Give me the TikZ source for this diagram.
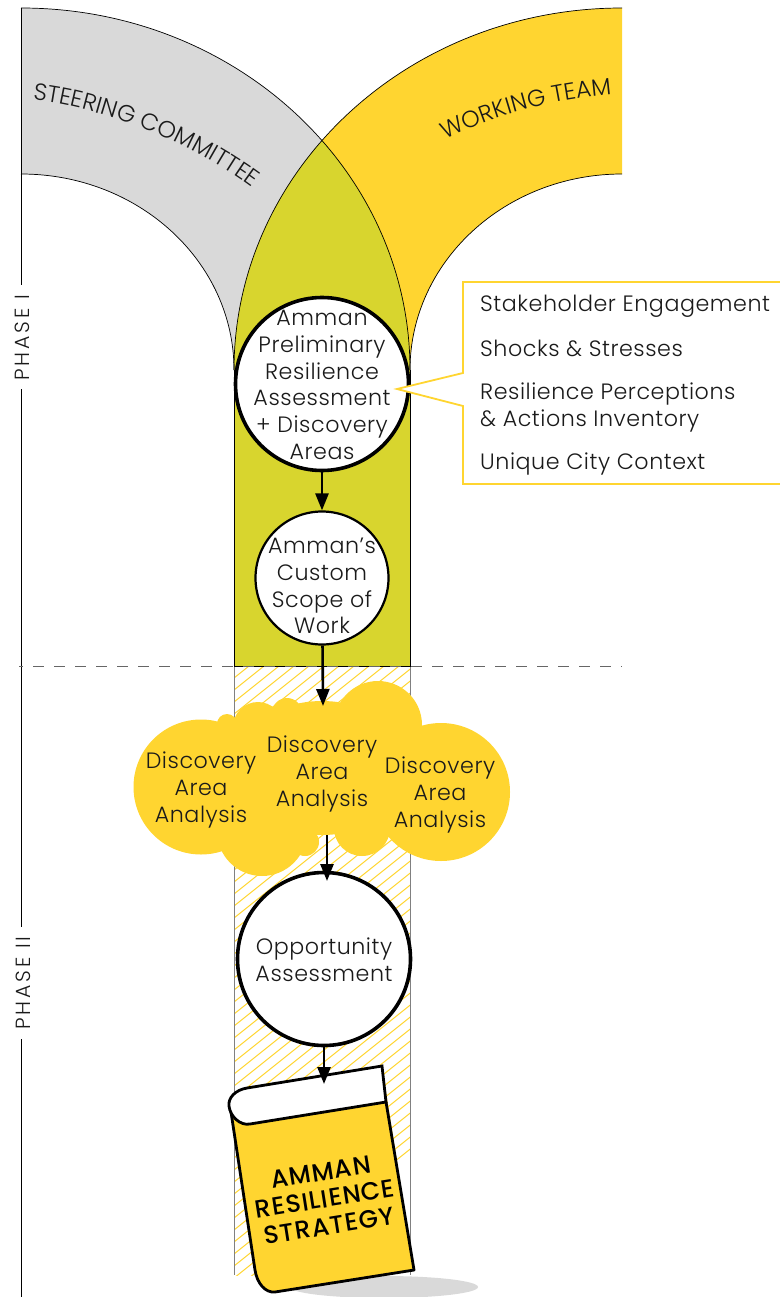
\documentclass[tikz,border=0pt]{standalone}
\usepackage{fontspec}
\setmainfont{Poppins}[LetterSpace=2]
\newfontfamily\lightf{Poppins Light}[LetterSpace=2.5]
\newfontfamily\widef{Poppins Light}
\newfontfamily\phasef{Poppins Light}[LetterSpace=14]
\newfontfamily\boldf{Poppins Medium}[LetterSpace=4]
\usetikzlibrary{arrows.meta,decorations.text}
\definecolor{ygold}{HTML}{FFD530}
\definecolor{yolive}{HTML}{D8D52E}
\definecolor{ygray}{HTML}{D9D9D9}
\definecolor{ink}{HTML}{1A1A1A}
\tikzset{
  x=1pt,y=-1pt,
  band/.style={draw=black,line width=0.7pt},
  bigcirc/.style={circle,draw=black,fill=white,line width=3.6pt,inner sep=0pt,minimum size=173pt},
  smallcirc/.style={circle,draw=black,fill=white,line width=2.2pt,inner sep=0pt,minimum size=133pt},
  bodytext/.style={align=center,inner sep=0pt,text=ink,font=\fontsize{22.2}{26.8}\selectfont\lightf},
  listtext/.style={anchor=west,inner sep=0pt,align=left,text=ink,font=\fontsize{22.2}{26.8}\selectfont\lightf},
  flow/.style={-{Triangle[length=17pt,width=13pt]},line width=2.6pt,black},
  rail/.style={line width=1pt,black},
  phase/.style={rotate=90,inner sep=0pt,text=ink,font=\fontsize{20.5}{24}\selectfont\phasef},
  booktext/.style={rotate=9,align=center,inner sep=0pt,text=black,font=\fontsize{25}{27.2}\selectfont\boldf},
}
\begin{document}
\begin{tikzpicture}
\useasboundingbox (0,0) rectangle (779,1297);
% shadow
\fill[ygray] (384,1287) ellipse [x radius=94,y radius=11];
% hatch column
\begin{scope}
\clip (234,666) rectangle (410,1275);
\foreach \k in {0,...,75}{
  \draw[ygold,line width=1pt] (234,1290-\k*12) -- ++(200,-160);
}
\end{scope}
\draw[gray,line width=1pt] (234,666) -- (234,1275) (410,666) -- (410,1275);
% bands
\fill[ygray] (21,8) .. controls (236,8) and (410,170) .. (410,370) -- (234,370) .. controls (234,262) and (139,174) .. (21,174) -- cycle;
\fill[ygold] (622,8) .. controls (408,8) and (234,170) .. (234,370) -- (410,370) .. controls (410,262) and (505,174) .. (622,174) -- cycle;
\begin{scope}
\clip (21,8) .. controls (236,8) and (410,170) .. (410,370) -- (234,370) .. controls (234,262) and (139,174) .. (21,174) -- cycle;
\fill[yolive] (622,8) .. controls (408,8) and (234,170) .. (234,370) -- (410,370) .. controls (410,262) and (505,174) .. (622,174) -- cycle;
\end{scope}
\fill[yolive] (234,369) rectangle (410,666);
\draw[band] (21,8) .. controls (236,8) and (410,170) .. (410,370);
\draw[band] (21,174) .. controls (139,174) and (234,262) .. (234,370);
\draw[band] (622,8) .. controls (408,8) and (234,170) .. (234,370);
\draw[band] (622,174) .. controls (505,174) and (410,262) .. (410,370);
\draw[black,line width=1pt] (234,370) -- (234,666) -- (410,666) -- (410,370);
% rail and phases
\coordinate (r0) at (21.5,8);
\coordinate (r1) at (21.5,285);
\coordinate (r2) at (21.5,389);
\coordinate (r3) at (21.5,927);
\coordinate (r4) at (21.5,1039);
\coordinate (r5) at (21.5,1297);
\draw[rail] (r0) -- (r1) (r2) -- (r3) (r4) -- (r5);
\node[phase] (ph1) at (22,338) {PHASE I};
\node[phase] (ph2) at (23,983) {PHASE II};
% dashed divider
\coordinate (d0) at (19,666.5);
\coordinate (d1) at (622,666.5);
\draw[black!60,line width=1.5pt,dash pattern=on 11pt off 10pt,dash phase=7pt] (d0) -- (d1);
% band labels
\path[decorate,decoration={text along path,text align=center,text={|\fontsize{23.5}{26}\selectfont\widef\color{ink}|STEERING COMMITTEE}}]
  (26,99) .. controls (100,106) and (190,140) .. (258,192);
\path[decorate,decoration={text along path,text align=center,text={|\fontsize{23.5}{26}\selectfont\widef\color{ink}|WORKING TEAM}}]
  (440,143) .. controls (495,113) and (555,99) .. (618,94);
% circles
\node[bigcirc] (c1) at (322,384) {};
\node[bodytext] (t1) at (322,385) {Amman\\Preliminary\\Resilience\\Assessment\\+ Discovery\\Areas};
\node[smallcirc] (c2) at (322,578) {};
\node[bodytext] (t2) at (322,586) {Amman’s\\Custom\\Scope of\\Work};
% callout
\draw[ygold,fill=white,line width=1.8pt] (790,282) -- (463,282) -- (463,373) -- (397,389) -- (463,406) -- (463,484) -- (790,484);
\node[listtext] (l1) at (480,306) {Stakeholder Engagement};
\node[listtext] (l2) at (480,348.5) {Shocks \& Stresses};
\node[listtext] (l3) at (480,407.5) {Resilience Perceptions\\\& Actions Inventory};
\node[listtext] (l4) at (480,464.5) {Unique City Context};
% cloud
\fill[ygold] (201,787) circle (67.5) (441,792) circle (69) (378,725) circle (44)
  (262,831) circle (45) (362,828) circle (28) (305,842) circle (14)
  (227,724) circle (10) (258,727) circle (25) (287,713) circle (15)
  (322,768) ellipse [x radius=88,y radius=67];
\node[bodytext] (a1) at (201,790) {Discovery\\Area\\Analysis};
\node[bodytext] (a2) at (322,774) {Discovery\\Area\\Analysis};
\node[bodytext] (a3) at (440,795) {Discovery\\Area\\Analysis};
\coordinate (cin) at (323,706);
\coordinate (cout) at (327,835);
% opportunity
\node[bigcirc] (c3) at (324,959) {};
\node[bodytext] (t3) at (324,959.5) {Opportunity\\Assessment};
\coordinate (bin) at (324,1084);
\coordinate (cend) at (327,881);
% book
\fill[ygold] (382,1066) -- (414,1270) -- (275,1292) .. controls (265,1293) and (257,1283) .. (255,1270) -- (231,1115) -- (247,1088) -- cycle;
\draw[black,line width=2.8pt,line join=round] (386,1102) -- (414,1270) -- (275,1292) .. controls (265,1293) and (257,1283) .. (255,1270) -- (231,1112);
\draw[black,fill=white,line width=2.8pt,line join=miter] (386,1102) -- (382,1066) -- (247,1088) .. controls (235,1090) and (228,1098) .. (229,1106) .. controls (230,1116) and (240,1126) .. (250,1124) -- cycle;
\node[booktext] (b1) at (325,1199) {AMMAN\\RESILIENCE\\STRATEGY};
% arrows
\draw[flow] (c1) -- (c2);
\draw[flow] (c2) -- (cin);
\draw[flow] (cout) -- (cend);
\draw[flow] (c3) -- (bin);
\end{tikzpicture}
\end{document}
